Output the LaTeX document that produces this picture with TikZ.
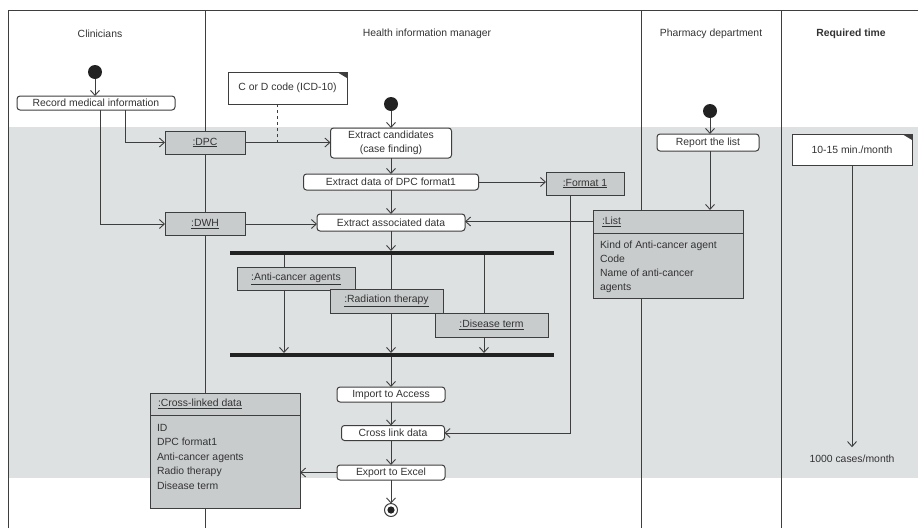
\documentclass[tikz,border=0pt]{standalone}
\usepackage{fontspec}
\setmainfont{Liberation Sans}
\usetikzlibrary{arrows.meta}
\definecolor{band}{HTML}{DEE1E2}
\definecolor{objfill}{HTML}{C9CCCD}
\definecolor{ink}{HTML}{3E3E3E}
\definecolor{txt}{HTML}{333333}
\definecolor{dot}{HTML}{222222}

\begin{document}
\begin{tikzpicture}[x=1pt,y=-1pt,
  font=\fontsize{10.4}{13.5}\selectfont, text=txt,
  box/.style={inner sep=0pt, outer sep=0pt},
  action/.style={box, draw=ink, line width=1pt, fill=white, rounded corners=3pt, align=center},
  obj/.style={box, draw=ink, line width=1pt, fill=objfill},
  notebox/.style={box, fill=white, align=center},
  flow/.style={draw=ink, line width=0.9pt, -{Straight Barb[length=5pt,width=9pt]}},
  link/.style={draw=ink, line width=0.9pt},
  lane/.style={draw=ink, line width=0.9pt},
  bar/.style={box, fill=dot, minimum height=4pt},
  startdot/.style={box, circle, fill=dot, minimum size=14pt},
  label/.style={box},
  items/.style={box, align=left, anchor=north west},
]
\useasboundingbox (0,0) rectangle (918,528);

% shaded working band and swimlane frame
\fill[band] (8,127) rectangle (918,478);
\draw[lane] (8,528) -- (8,10) -- (918,10);
\draw[lane] (205,10) -- (205,528);
\draw[lane] (641,10) -- (641,528);
\draw[lane] (781,10) -- (781,528);

% lane headers
\node[label] (hClin) at (100,34) {Clinicians};
\node[label] (hHim) at (427,34) {Health information manager};
\node[label] (hPh) at (711,34) {Pharmacy department};
\node[label] (hTime) at (851,34) {\bfseries Required time};

% fork and join bars
\node[bar, minimum width=324pt] (fork) at (392,253) {};
\node[bar, minimum width=324pt] (join) at (392,355) {};
\coordinate (b1) at (284,0);
\coordinate (b2) at (391,0);
\coordinate (b3) at (484,0);
\draw[flow] (fork.south -| b1) -- (join.north -| b1);
\draw[flow] (fork.south -| b2) -- (join.north -| b2);
\draw[flow] (fork.south -| b3) -- (join.north -| b3);

% Clinicians
\node[startdot] (s1) at (95,72) {};
\node[action, minimum width=158pt, minimum height=14pt] (rec) at (96,103) {Record medical information};
\node[obj, minimum width=80pt, minimum height=23pt] (dpc) at (205,142.5) {\underline{:DPC}};
\node[obj, minimum width=80pt, minimum height=23pt] (dwh) at (205,224) {\underline{:DWH}};

% note on the ICD code
\node[notebox, minimum width=119pt, minimum height=32pt] (icd) at (287.5,88) {C or D code (ICD-10)};
\draw[ink, line width=0.9pt] (icd.north west) -- (icd.north east) -- (icd.south east) -- (icd.south west) -- cycle;
\fill[ink] ([xshift=-10pt]icd.north east) -- (icd.north east) -- ([yshift=-6pt]icd.north east) -- cycle;

% Health information manager
\node[startdot] (s2) at (391,104) {};
\node[action, minimum width=121pt, minimum height=30pt] (cand) at (391,143) {Extract candidates\\(case finding)};
\node[action, minimum width=175pt, minimum height=16pt] (fmt) at (391,182) {Extract data of DPC format1};
\node[obj, minimum width=78pt, minimum height=23pt] (form) at (585,183.5) {\underline{:Format 1}};
\node[action, minimum width=148pt, minimum height=17pt] (assoc) at (391,222.5) {Extract associated data};

\node[obj, minimum width=118pt, minimum height=23pt] (anti) at (296,278.5) {\underline{:Anti-cancer agents}};
\node[obj, minimum width=113pt, minimum height=24pt] (rad) at (386.5,301) {\underline{:Radiation therapy}};
\node[obj, minimum width=113pt, minimum height=24pt] (dis) at (491.5,325) {\underline{:Disease term}};

\node[action, minimum width=108pt, minimum height=15pt] (imp) at (391,394.5) {Import to Access};
\node[action, minimum width=103pt, minimum height=15pt] (cross) at (393,433) {Cross link data};
\node[action, minimum width=108pt, minimum height=15pt] (exp) at (391,472.5) {Export to Excel};
\node[box, circle, draw=ink, line width=1pt, fill=white, minimum size=13pt] (fin) at (391,510) {};
\fill[dot] (fin.center) circle (3.6pt);

% cross-linked data object
\node[obj, anchor=north west, minimum width=150pt, minimum height=22pt] (clhead) at (150,393) {};
\node[label, anchor=west] (cltitle) at ([xshift=8pt]clhead.west) {\underline{:Cross-linked data}};
\node[obj, anchor=north west, minimum width=150pt, minimum height=93pt] (clbody) at (150,415) {};
\node[items, font=\fontsize{10.4}{14.5}\selectfont] (clitems) at (157,424)
  {ID\\DPC format1\\Anti-cancer agents\\Radio therapy\\Disease term};

% Pharmacy department
\node[startdot] (s3) at (710,111) {};
\node[action, minimum width=102pt, minimum height=17pt] (rep) at (708,142.5) {Report the list};
\node[obj, anchor=north west, minimum width=150pt, minimum height=23pt] (lhead) at (593,210) {};
\node[label, anchor=west] (ltitle) at ([xshift=9pt]lhead.west) {\underline{:List}};
\node[obj, anchor=north west, minimum width=150pt, minimum height=65pt] (lbody) at (593,233) {};
\node[items, font=\fontsize{10.4}{14}\selectfont] (litems) at (600,241)
  {Kind of Anti-cancer agent\\Code\\Name of anti-cancer\\agents};

% Required time
\node[notebox, minimum width=120pt, minimum height=31pt] (tnote) at (852,149.5) {10-15 min./month};
\draw[ink, line width=0.9pt] (tnote.north west) -- (tnote.north east) -- (tnote.south east) -- (tnote.south west) -- cycle;
\fill[ink] ([xshift=-10pt]tnote.north east) -- (tnote.north east) -- ([yshift=-6pt]tnote.north east) -- cycle;
\node[label] (tcases) at (852,459) {1000 cases/month};

% connectors
\draw[flow] (s1) -- (s1 |- rec.north);
\draw[flow] ([xshift=29pt]rec.south) |- (dpc.west);
\draw[flow] ([xshift=4pt]rec.south) |- (dwh.west);
\draw[link, dashed] ([xshift=-10.5pt]icd.south) -- ([xshift=-10.5pt]icd.south |- dpc.east);
\draw[flow] (dpc.east) -- (dpc.east -| cand.west);
\draw[flow] (s2) -- (cand.north);
\draw[flow] (cand.south) -- (fmt.north);
\draw[flow] (fmt.east) -- (fmt.east -| form.west);
\draw[flow] (fmt.south) -- (assoc.north);
\draw[flow] (dwh.east) -- (dwh.east -| assoc.west);
\draw[flow] (lhead.west) -- (lhead.west -| assoc.east);
\draw[flow] (assoc.south) -- (fork.north -| assoc.south);
\draw[flow] (join.south -| imp.north) -- (imp.north);
\draw[flow] (imp.south) -- (imp.south |- cross.north);
\draw[flow] ([xshift=-15pt]form.south) |- (cross.east);
\draw[flow] (cross.south -| exp.north) -- (exp.north);
\draw[flow] (exp.south) -- (fin.north);
\draw[flow] (exp.west) -- (exp.west -| clbody.east);
\draw[flow] (s3) -- (s3 |- rep.north);
\draw[flow] (s3 |- rep.south) -- (s3 |- lhead.north);
\draw[flow, shorten >=8pt] (tnote.south) -- (tcases.north);
\end{tikzpicture}
\end{document}
